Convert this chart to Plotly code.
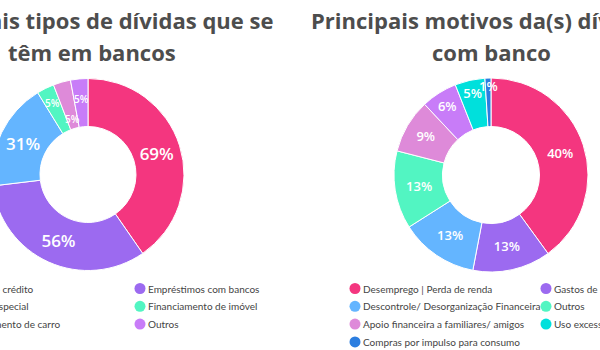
import math
import plotly.graph_objects as go

# ---------------- data ----------------
left_title = ["Principais tipos de dívidas que se", "têm em bancos"]
left_labels = ["Cartão de crédito", "Empréstimos com bancos", "Cheque especial",
               "Financiamento de imóvel", "Financiamento de carro", "Outros"]
left_values = [69, 56, 31, 5, 5, 5]

right_title = ["Principais motivos da(s) dívida(s)", "com banco"]
right_labels = ["Desemprego | Perda de renda", "Gastos de emergência",
                "Descontrole/ Desorganização Financeira", "Outros",
                "Apoio financeira a familiares/ amigos", "Doença na família",
                "Uso excessivo do cartão", "Compras por impulso para consumo"]
right_values = [40, 13, 13, 13, 9, 6, 5, 1]
right_legend_hidden = ["Doença na família"]

# ---------------- styles ----------------
PINK, PURPLE, BLUE, GREEN = "#F4367F", "#9C6AF0", "#64B5FF", "#52F5C2"
ORCHID, VIOLET, CYAN, DBLUE = "#DE8AD9", "#C87CF8", "#00E0DC", "#2C7EE0"
left_colors = [PINK, PURPLE, BLUE, GREEN, ORCHID, VIOLET]
right_colors = [PINK, PURPLE, BLUE, GREEN, ORCHID, VIOLET, CYAN, DBLUE]

W, H = 806, 350
SHIFT = 113
FONT = "Open Sans"
LEG_FONT = "Lato"
SMALL_SHARE = 0.04          # slices below this share get a free-standing label
left_geo = dict(cx=201, cy=174.5, r=96, small_r=[0.83, 0.60, 0.79], small_size=10, big_size=17)
right_geo = dict(cx=604, cy=175, r=97, small_r=[0.92], small_size=13, big_size=13)

fig = go.Figure()


def dom(g):
    cx, cy, r = g["cx"], g["cy"], g["r"]
    return dict(x=[(cx - r) / W, (cx + r) / W], y=[(H - cy - r) / H, (H - cy + r) / H])


annotations = []


def add_donut(labels, values, colors, g):
    total = sum(values)
    texts, cum, k = [], 0.0, 0
    for v in values:
        share = v / total
        if share < SMALL_SHARE:
            texts.append("")
            ang = 2 * math.pi * (cum + share / 2)
            rr = g["r"] * g["small_r"][k % len(g["small_r"])]
            k += 1
            annotations.append(dict(
                x=g["cx"] + rr * math.sin(ang), y=g["cy"] - rr * math.cos(ang),
                xref="x", yref="y", text=f"{v}%", showarrow=False,
                xanchor="center", yanchor="middle",
                font=dict(family=FONT, color="white", size=g["small_size"], weight=600)))
        else:
            texts.append(f"{v}%")
        cum += share
    fig.add_trace(go.Pie(
        labels=labels, values=values, text=texts, texttemplate="%{text}",
        marker=dict(colors=colors, line=dict(color="white", width=1)),
        hole=0.5, sort=False, direction="clockwise", rotation=0,
        textposition="inside", insidetextorientation="horizontal",
        insidetextfont=dict(family=FONT, color="white", size=g["big_size"], weight=600),
        domain=dom(g), showlegend=False, name="", hoverinfo="label+value"))


add_donut(left_labels, left_values, left_colors, left_geo)
add_donut(right_labels, right_values, right_colors, right_geo)


# ---------------- custom legends ----------------
def legend_items(labels, colors, hidden, x0):
    xs, ys, cs, ann = [], [], [], []
    items = [(l, c) for l, c in zip(labels, colors) if l not in hidden]
    for i, (l, c) in enumerate(items):
        row, col = divmod(i, 2)
        x = x0 + col * 191
        y = 288.5 + row * 17.8
        xs.append(x); ys.append(y); cs.append(c)
        ann.append(dict(x=x + 6, y=y, text=l, xref="x", yref="y", xanchor="left", yanchor="middle",
                        showarrow=False, font=dict(family=LEG_FONT, size=10, color="#444444")))
    return xs, ys, cs, ann


lx, ly, lc, lann = legend_items(left_labels, left_colors, [], 62)
rx, ry, rc, rann = legend_items(right_labels, right_colors, right_legend_hidden, 468)

fig.add_trace(go.Scatter(x=lx + rx, y=ly + ry, mode="markers",
                         marker=dict(size=11, color=lc + rc), hoverinfo="skip", showlegend=False))

annotations += lann + rann
for cx, lines in [(205, left_title), (604, right_title)]:
    for k, t in enumerate(lines):
        annotations.append(dict(x=cx, y=20 + 32 * k, text=t, xref="x", yref="y", xanchor="center",
                                yanchor="middle", showarrow=False,
                                font=dict(family=FONT, size=22, color="#4d4d4d", weight=700)))

fig.update_layout(
    width=W, height=H, margin=dict(l=0, r=0, t=0, b=0),
    paper_bgcolor="white", plot_bgcolor="rgba(0,0,0,0)",
    xaxis=dict(range=[0, W], visible=False, fixedrange=True),
    yaxis=dict(range=[H, 0], visible=False, fixedrange=True),
    annotations=annotations, showlegend=False,
)

post = ("var gd=document.getElementById('{plot_id}');"
        "gd.style.position='relative';gd.style.left='-%dpx';"
        "document.body.style.margin='0';document.body.style.overflow='hidden';" % SHIFT)

fig.write_html("out.html", post_script=post, config={"displayModeBar": False})
